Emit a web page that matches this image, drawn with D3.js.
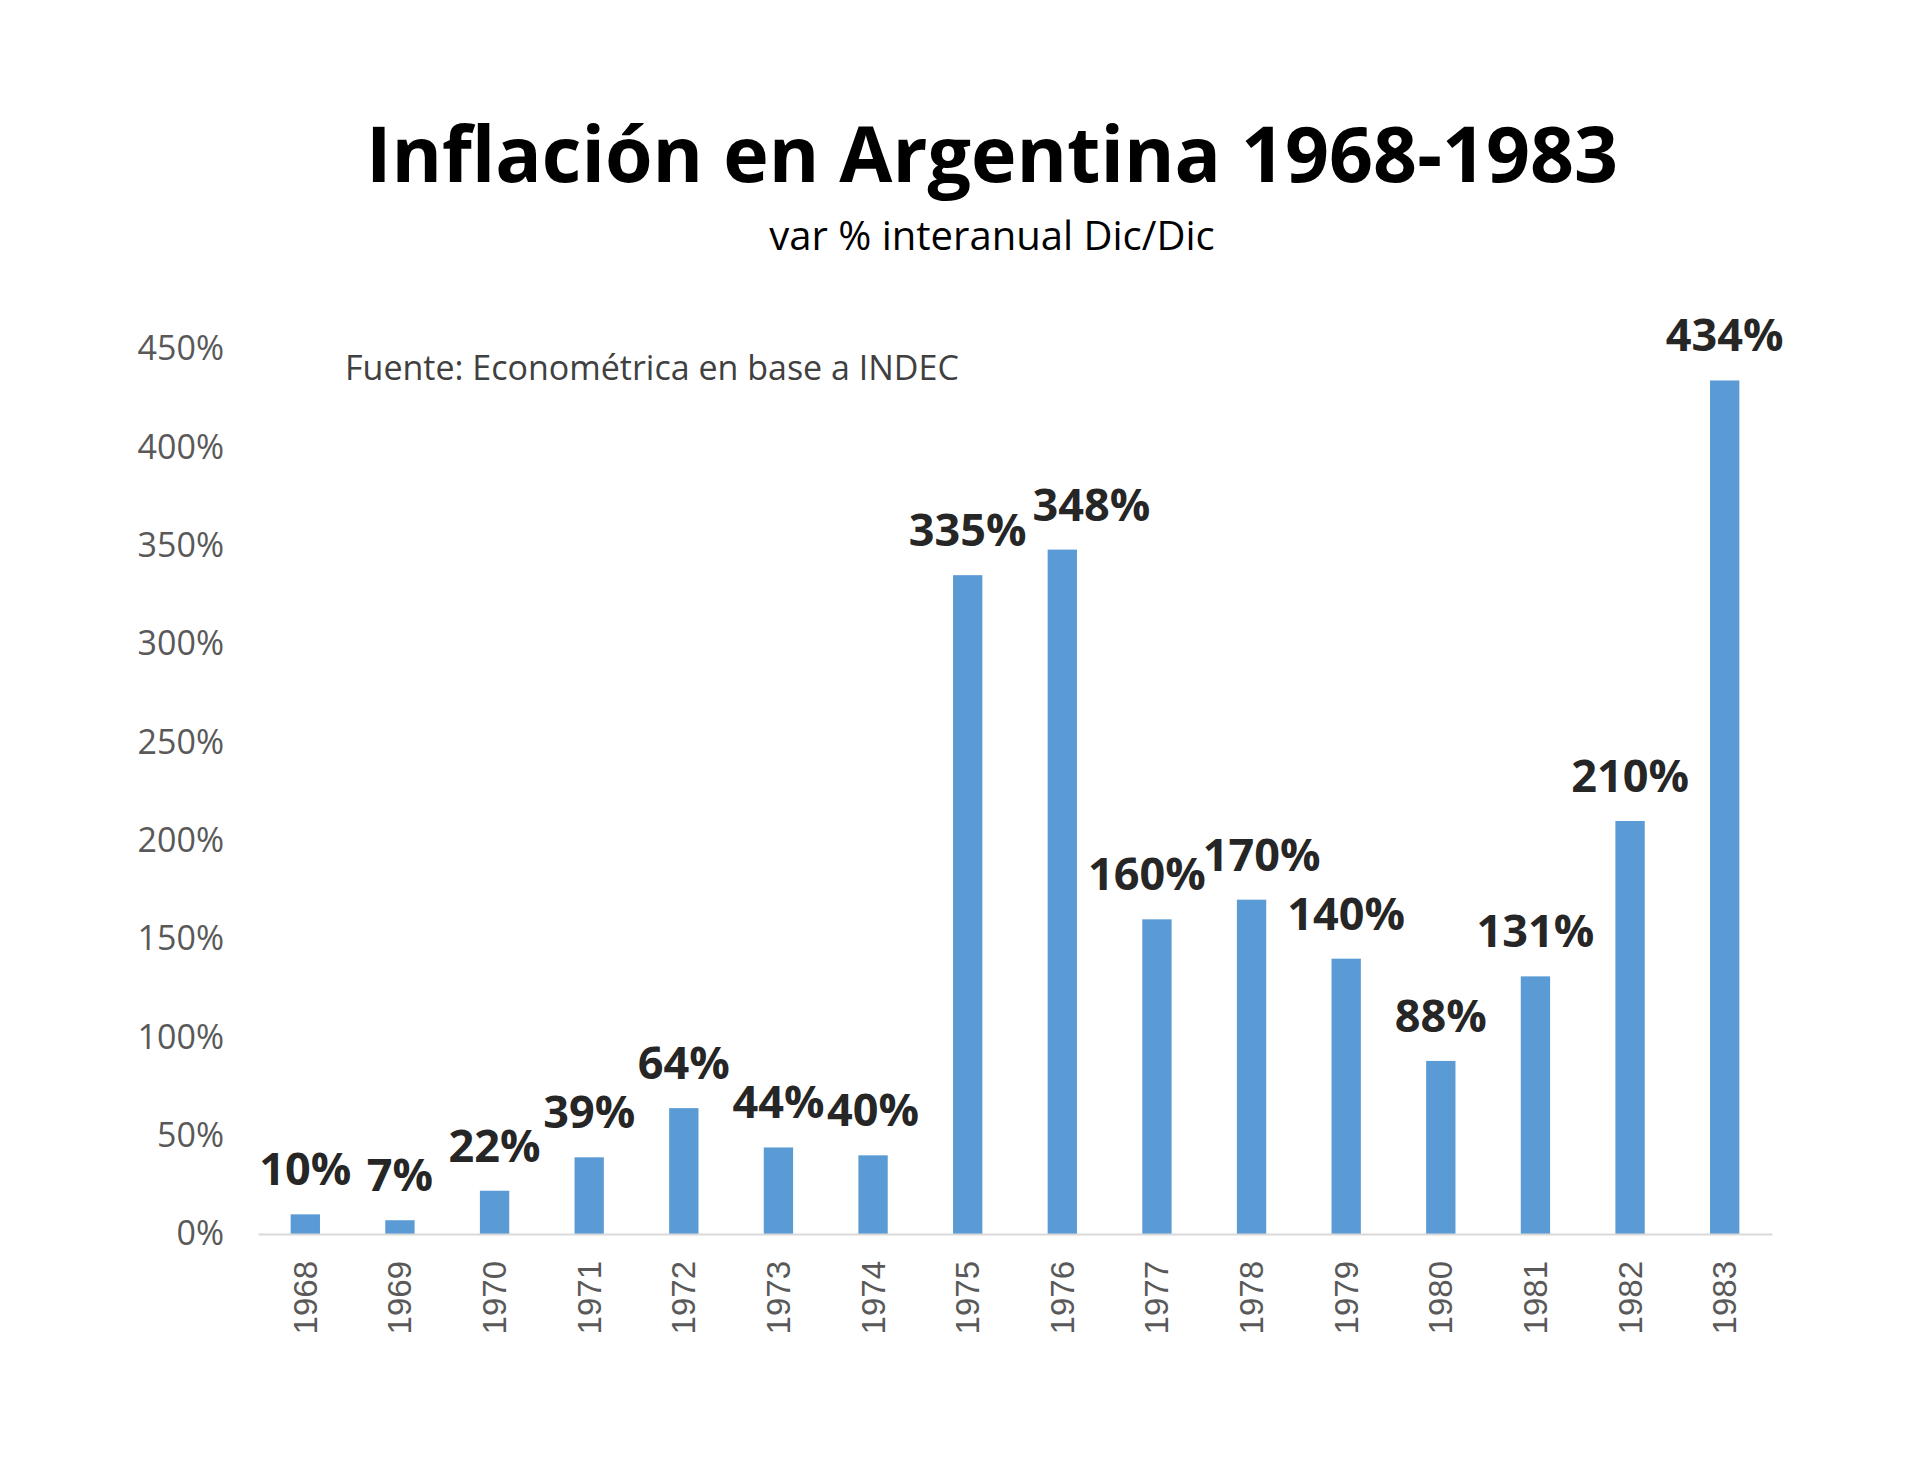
<!DOCTYPE html>
<html>
<head>
<meta charset="utf-8">
<script src="https://cdn.jsdelivr.net/npm/d3@7"></script>
<style>
  html, body { margin: 0; padding: 0; background: #ffffff; }
  svg { display: block; }
</style>
</head>
<body>
<svg id="chart" width="1920" height="1483"></svg>
<script>
// ---- Data ----
const years = ["1968","1969","1970","1971","1972","1973","1974","1975","1976","1977","1978","1979","1980","1981","1982","1983"];
const inflation = [10, 7, 22, 39, 64, 44, 40, 335, 348, 160, 170, 140, 88, 131, 210, 434];
const yTicks = [0, 50, 100, 150, 200, 250, 300, 350, 400, 450];
const titleText = "Inflación en Argentina 1968-1983";
const subtitleText = "var % interanual Dic/Dic";
const sourceText = "Fuente: Econométrica en base a INDEC";

// ---- Layout ----
const svg = d3.select("#chart");
const W = 1920, H = 1483;
const mLeft = 258, mRight = 1772, mTop = 349, mBottom = 1234;

svg.append("rect").attr("width", W).attr("height", H).attr("fill", "#ffffff");

const x = d3.scaleBand().domain(years).range([mLeft, mRight]).paddingInner(0.69).paddingOuter(0.345);
const y = d3.scaleLinear().domain([0, 450]).range([mBottom, mTop]);

// Title
svg.append("text")
  .attr("x", 992).attr("y", 182)
  .attr("text-anchor", "middle")
  .attr("font-family", "'Open Sans', sans-serif")
  .attr("font-weight", 700)
  .attr("font-size", 77)
  .attr("fill", "#000000")
  .text(titleText);

svg.append("text")
  .attr("x", 992).attr("y", 250)
  .attr("text-anchor", "middle")
  .attr("font-family", "'Open Sans', sans-serif")
  .attr("font-size", 40)
  .attr("fill", "#000000")
  .text(subtitleText);

// Source note
svg.append("text")
  .attr("x", 345).attr("y", 380)
  .attr("font-family", "'Open Sans', sans-serif")
  .attr("font-size", 34)
  .attr("fill", "#404040")
  .text(sourceText);

// Y axis (labels only)
const yAxis = d3.axisLeft(y).tickValues(yTicks).tickFormat(d => d + "%").tickSize(0).tickPadding(0);
const gy = svg.append("g").attr("transform", "translate(224,0)").call(yAxis);
gy.select(".domain").remove();
gy.selectAll("text")
  .attr("font-family", "'Open Sans', sans-serif")
  .attr("font-size", 34)
  .attr("fill", "#595959");

// Bars
svg.append("g").selectAll("rect")
  .data(inflation)
  .join("rect")
  .attr("x", (d, i) => x(years[i]))
  .attr("y", d => y(d))
  .attr("width", x.bandwidth())
  .attr("height", d => y(0) - y(d))
  .attr("fill", "#5B9BD5");

// X axis
const xAxis = d3.axisBottom(x).tickSize(0).tickPadding(0);
const gx = svg.append("g").attr("transform", `translate(0,${mBottom})`).call(xAxis);
gx.select(".domain").attr("stroke", "#D9D9D9").attr("stroke-width", 2);
gx.selectAll("text")
  .attr("font-family", "'Liberation Sans', Arial, sans-serif")
  .attr("font-size", 33)
  .attr("fill", "#595959")
  .attr("text-anchor", "end")
  .attr("dy", null)
  .attr("transform", "translate(0,27) rotate(-90)")
  .attr("x", 0).attr("y", 0)
  .attr("dominant-baseline", "central");

// Data labels
const labelShift = { "1976": 29, "1977": -10, "1978": 10 };
svg.append("g").selectAll("text")
  .data(inflation)
  .join("text")
  .attr("x", (d, i) => x(years[i]) + x.bandwidth() / 2 + (labelShift[years[i]] || 0))
  .attr("y", d => y(d) - 29)
  .attr("text-anchor", "middle")
  .attr("font-family", "'Open Sans', sans-serif")
  .attr("font-weight", 700)
  .attr("font-size", 45)
  .attr("fill", "#262626")
  .text(d => d + "%");
</script>
</body>
</html>
